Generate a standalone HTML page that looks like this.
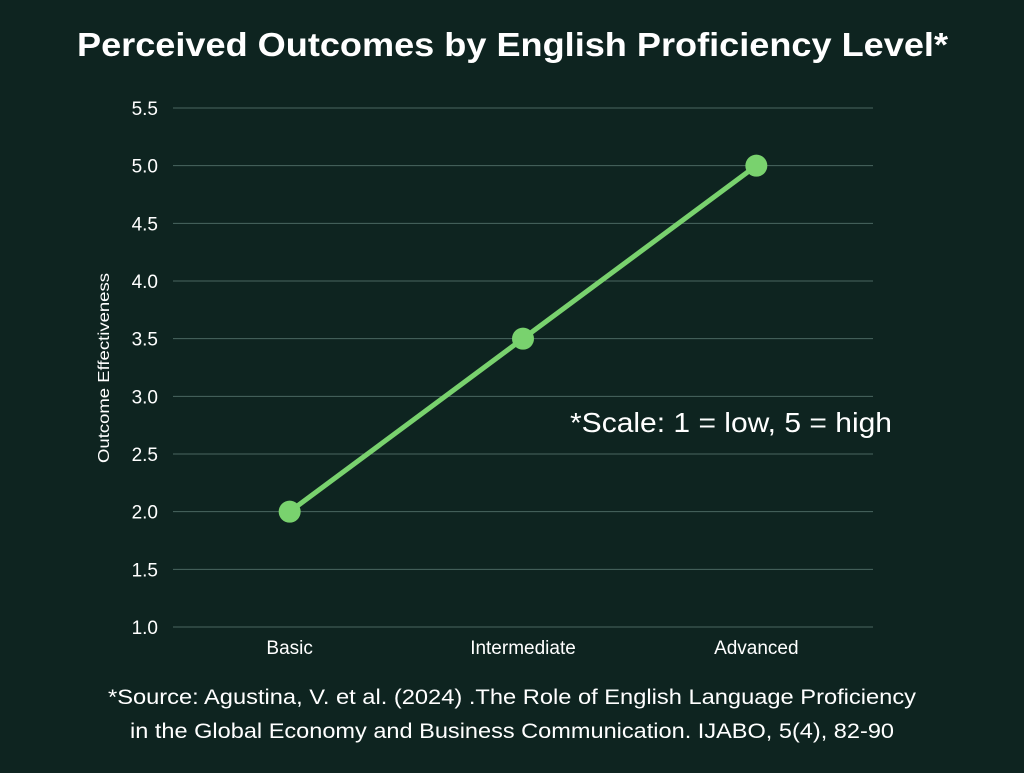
<!DOCTYPE html>
<html><head><meta charset="utf-8"><style>
body{margin:0;background:#0e2420;width:1024px;height:768px;overflow:hidden;font-family:"Liberation Sans",sans-serif;}
</style></head><body>
<svg width="1024" height="768">
<rect width="1024" height="768" fill="#0e2420"/>
<text x="77" y="56" fill="#fff" font-size="33" font-weight="bold" textLength="871" lengthAdjust="spacingAndGlyphs">Perceived Outcomes by English Proficiency Level*</text>
<g id="grid"></g><g id="plot"></g>
<text transform="translate(109,368) rotate(-90)" text-anchor="middle" fill="#fff" font-size="16" textLength="190" lengthAdjust="spacingAndGlyphs">Outcome Effectiveness</text>
<text x="570" y="432" fill="#fff" font-size="28" textLength="322" lengthAdjust="spacingAndGlyphs">*Scale: 1 = low, 5 = high</text>
<text x="108" y="704" fill="#fff" font-size="21" textLength="808" lengthAdjust="spacingAndGlyphs">*Source: Agustina, V. et al. (2024) .The Role of English Language Proficiency</text>
<text x="130" y="738" fill="#fff" font-size="21" textLength="764" lengthAdjust="spacingAndGlyphs">in the Global Economy and Business Communication. IJABO, 5(4), 82-90</text>
</svg>
<script>
const categories=["Basic","Intermediate","Advanced"];
const values=[2.0,3.5,5.0];
const yTicks=[1.0,1.5,2.0,2.5,3.0,3.5,4.0,4.5,5.0,5.5];
const NS="http://www.w3.org/2000/svg";
const x0=173,x1=873,yMin=1,yMax=5.5,py0=627,py1=108;
const y=v=>py0-(v-yMin)/(yMax-yMin)*(py0-py1);
const band=(x1-x0)/categories.length;
const x=i=>x0+band*(i+0.5);
function mk(t,a,p){const e=document.createElementNS(NS,t);for(const k in a)e.setAttribute(k,a[k]);p.appendChild(e);return e;}
const g=document.getElementById('grid'),p=document.getElementById('plot');
yTicks.forEach(v=>{
 const l=mk('line',{x1:x0,x2:x1,y1:y(v),y2:y(v),stroke:'#4a6660','stroke-width':1},g);
 
 
 const t=mk('text',{x:158,y:y(v)+7,'text-anchor':'end',fill:'#fff','font-size':19},g);
 t.textContent=v.toFixed(1);
 
 
});
categories.forEach((c,i)=>{
 const t=mk('text',{x:x(i),y:654,'text-anchor':'middle',fill:'#fff','font-size':19},g);
 t.textContent=c;
 
 
});
const line=mk('polyline',{points:values.map((v,i)=>x(i)+','+y(v)).join(' '),fill:'none',stroke:'#79d26e','stroke-width':5},p);


values.forEach((v,i)=>{
 const c=mk('circle',{cx:x(i),cy:y(v),r:11,fill:'#79d26e'},p);
 
 
});
</script>
</body></html>
